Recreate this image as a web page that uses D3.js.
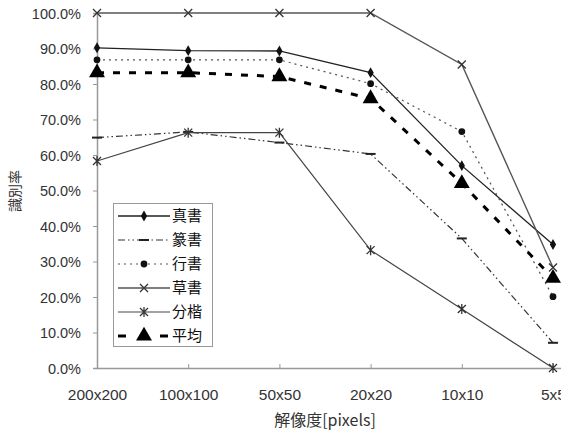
<!DOCTYPE html>
<html><head><meta charset="utf-8">
<script src="https://cdn.jsdelivr.net/npm/d3@7"></script>
<style>body{margin:0;background:#fff}svg{display:block}</style>
</head><body><svg id="c" width="561" height="434"></svg>
<script>
const categories = ["200x200","100x100","50x50","20x20","10x10","5x5"];
const yTicks = [0,10,20,30,40,50,60,70,80,90,100];
const seriesNames = ["真書","篆書","行書","草書","分楷","平均"];
const shinsho = [90.2,89.4,89.3,83.2,57.0,34.8];
const tensho  = [64.9,66.5,63.5,60.3,36.5,7.1];
const gyosho  = [86.8,86.8,86.8,80.1,66.6,20.1];
const sosho   = [100,100,100,100,85.5,28.3];
const bunkai  = [58.3,66.3,66.3,33.2,16.6,0];
const heikin  = [83.2,83.2,82.1,75.9,52.0,25.3];

const svg = d3.select("#c");
const x = d3.scalePoint().domain(categories).range([97,553]);
const y = d3.scaleLinear().domain([0,100]).range([368,13]);
const font = "'Liberation Sans', Arial, sans-serif";
const cjk = "'Noto Sans CJK JP', sans-serif";

const styles = [
  {color:"#222", width:1.3, dash:null, marker:"diamond"},
  {color:"#333", width:1.2, dash:"7,3,1.5,3,1.5,3", marker:"hdash"},
  {color:"#555", width:1.2, dash:"2,4", marker:"circle"},
  {color:"#555", width:1.4, dash:null, marker:"x"},
  {color:"#444", width:1.2, dash:null, marker:"star"},
  {color:"#000", width:3, dash:"7,9", marker:"triangle"}
];
const data = [shinsho,tensho,gyosho,sosho,bunkai,heikin];

// axes
const yAxis = d3.axisLeft(y).tickValues(yTicks).tickSize(4).tickFormat(d=>d3.format(".1f")(d)+"%");
const gy = svg.append("g").attr("transform","translate(97,0)").call(yAxis);
gy.select(".domain").attr("stroke","#999").attr("stroke-width",1.5);
gy.selectAll(".tick line").attr("stroke","#999");
gy.selectAll("text").attr("font-family",font).attr("font-size",14.5).attr("fill","#333").attr("dx",-9).attr("dy","0.36em");

const xAxis = d3.axisBottom(x).tickSize(-4).tickSizeOuter(0);
const gx = svg.append("g").attr("transform","translate(0,368)").call(xAxis);
gx.select(".domain").attr("stroke","#999").attr("stroke-width",1.5).attr("d","M97,0.5H561");
gx.selectAll(".tick line").attr("stroke","#999");
gx.selectAll("text").attr("font-family",font).attr("font-size",15.5).attr("fill","#333").attr("dy",28.5);

// titles
svg.append("text").attr("transform","translate(15,191) rotate(-90)").attr("text-anchor","middle")
  .attr("dy","0.35em").attr("font-family",cjk).attr("font-size",14).attr("fill","#333").text("識別率");
svg.append("text").attr("x",325).attr("y",426).attr("text-anchor","middle")
  .attr("font-family",cjk).attr("font-size",16).attr("fill","#333").text("解像度[pixels]");

function drawMarker(g, type, cx, cy, color){
  if(type==="diamond"){
    g.append("path").attr("d",d3.symbol(d3.symbolDiamond,34)()).attr("transform",`translate(${cx},${cy})`).attr("fill","#111");
  } else if(type==="hdash"){
    g.append("line").attr("x1",cx-5).attr("x2",cx+5).attr("y1",cy).attr("y2",cy).attr("stroke","#222").attr("stroke-width",2);
  } else if(type==="circle"){
    g.append("circle").attr("cx",cx).attr("cy",cy).attr("r",3.4).attr("fill","#111");
  } else if(type==="x"){
    g.append("path").attr("d",`M${cx-4},${cy-4}L${cx+4},${cy+4}M${cx-4},${cy+4}L${cx+4},${cy-4}`).attr("stroke","#333").attr("stroke-width",1.3);
  } else if(type==="star"){
    g.append("path").attr("d",`M${cx-4},${cy-4}L${cx+4},${cy+4}M${cx-4},${cy+4}L${cx+4},${cy-4}M${cx},${cy-5}L${cx},${cy+5}`).attr("stroke","#333").attr("stroke-width",1.3);
  } else if(type==="triangle"){
    g.append("path").attr("d",d3.symbol(d3.symbolTriangle,110)()).attr("transform",`translate(${cx},${cy})`).attr("fill","#000");
  }
}

const line = d3.line().x((d,i)=>x(categories[i])).y(d=>y(d));
data.forEach((vals,k)=>{
  const s = styles[k];
  const g = svg.append("g");
  g.append("path").attr("d",line(vals)).attr("fill","none").attr("stroke",s.color)
    .attr("stroke-width",s.width).attr("stroke-dasharray",s.dash);
  vals.forEach((v,i)=>drawMarker(g,s.marker,x(categories[i]),y(v),s.color));
});

// legend
const lg = svg.append("g");
lg.append("rect").attr("x",113.5).attr("y",203.5).attr("width",99).attr("height",143).attr("fill","#fff").attr("stroke","#999");
seriesNames.forEach((n,k)=>{
  const s = styles[k];
  const ly = 216 + k*24;
  lg.append("line").attr("x1",118).attr("x2",170).attr("y1",ly).attr("y2",ly).attr("stroke",s.color)
    .attr("stroke-width",s.width).attr("stroke-dasharray",k===5?"8,34":s.dash);
  drawMarker(lg,s.marker,144,ly,s.color);
  lg.append("text").attr("x",172).attr("y",ly).attr("dy","0.35em").attr("font-family",cjk)
    .attr("font-size",15).attr("fill","#111").text(n);
});
</script></body></html>
